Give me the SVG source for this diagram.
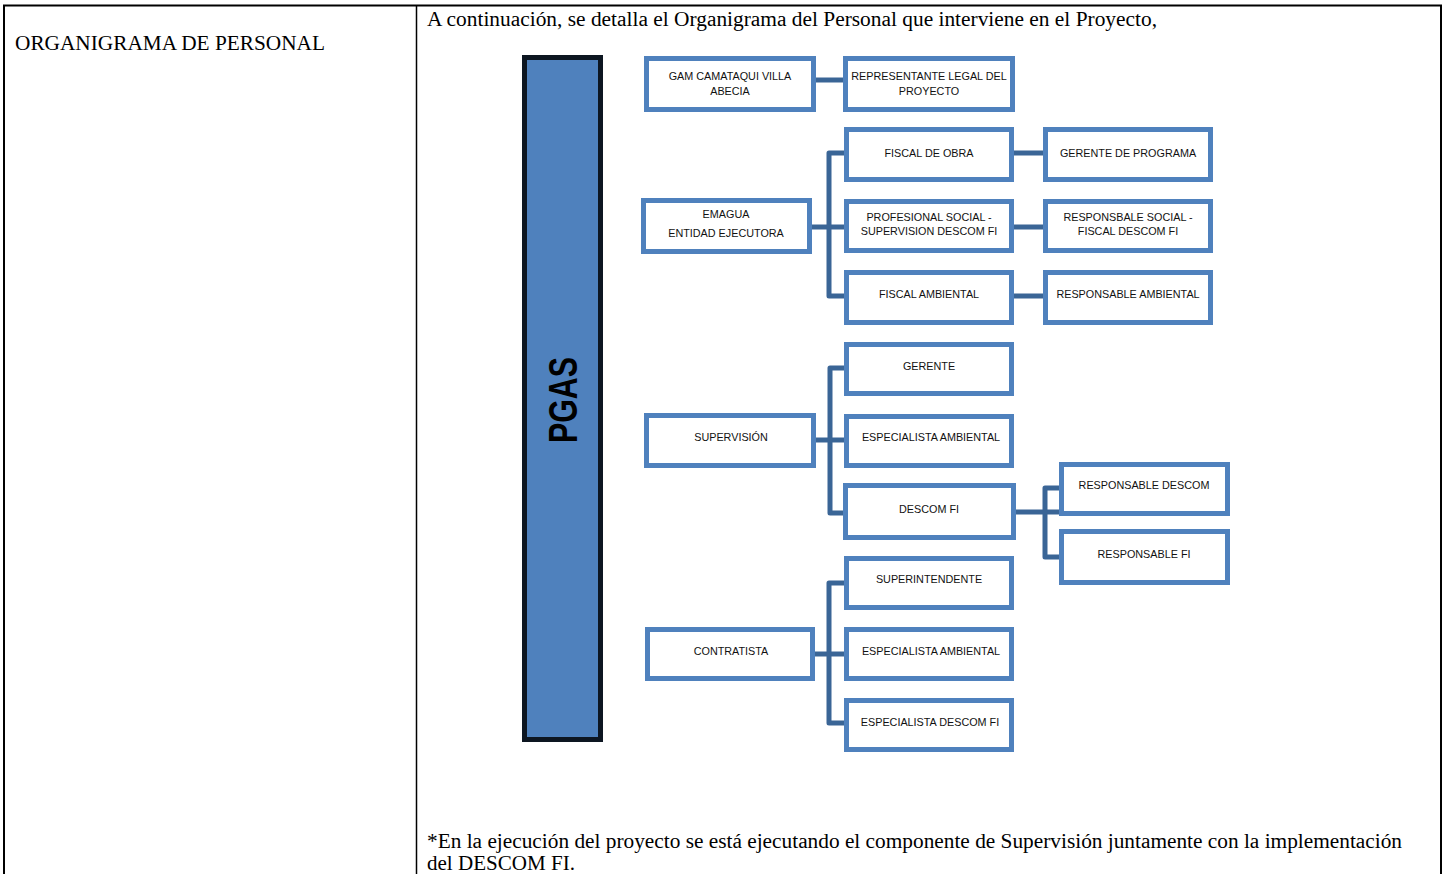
<svg xmlns="http://www.w3.org/2000/svg" width="1443" height="874" viewBox="0 0 1443 874">
<style>
.tbl{fill:none;stroke:#000;stroke-width:2}
.box{fill:#fff;stroke:#4F81BD;stroke-width:5}
.lbl{font-family:"Liberation Sans",Arial,sans-serif;font-size:10.8px;fill:#111;text-anchor:middle}
.con{fill:none;stroke:#3A6596;stroke-width:5;stroke-linejoin:round}
.serif{font-family:"Liberation Serif","Times New Roman",serif;fill:#000}
</style>
<rect width="1443" height="874" fill="#fff"/>
<g id="table">
<path class="tbl" d="M4 880 V5.5 H1441 V880"/>
<path d="M416.5 5 V880" stroke="#000" stroke-width="1.5"/>
<text class="serif" x="15" y="50" font-size="20" textLength="310" lengthAdjust="spacingAndGlyphs">ORGANIGRAMA DE PERSONAL</text>
<text class="serif" x="427" y="26" font-size="20" textLength="730" lengthAdjust="spacingAndGlyphs">A continuación, se detalla el Organigrama del Personal que interviene en el Proyecto,</text>
<text class="serif" x="427" y="848" font-size="20" textLength="975" lengthAdjust="spacingAndGlyphs">*En la ejecución del proyecto se está ejecutando el componente de Supervisión juntamente con la implementación</text>
<text class="serif" x="427" y="870" font-size="20" textLength="148" lengthAdjust="spacingAndGlyphs">del DESCOM FI.</text>
</g>
<g id="pgas">
<rect x="524.5" y="57.5" width="76" height="682" fill="#4F81BD" stroke="#0D1621" stroke-width="5"/>
<text transform="translate(577 400) rotate(-90)" font-family="'Liberation Sans',Arial,sans-serif" font-weight="bold" font-size="40" text-anchor="middle" textLength="86" lengthAdjust="spacingAndGlyphs" fill="#000">PGAS</text>
</g>
<g id="connectors">
<path class="con" d="M816 80 H843"/>
<path class="con" d="M812 227 H844"/>
<path class="con" d="M846 153 H829 V296 H846"/>
<path class="con" d="M1014 153 H1043 M1014 227 H1043 M1014 296 H1043"/>
<path class="con" d="M816 440 H844"/>
<path class="con" d="M846 368 H830 V513 H846"/>
<path class="con" d="M1016 512 H1059"/>
<path class="con" d="M1061 488 H1045 V557 H1061"/>
<path class="con" d="M815 654 H844"/>
<path class="con" d="M846 583 H829 V723 H846"/>
</g>
<g id="n-gam"><rect class="box" x="646.5" y="58.5" width="167" height="51"/><text class="lbl" x="730" y="80">GAM CAMATAQUI VILLA</text><text class="lbl" x="730" y="95">ABECIA</text></g>
<g id="n-rep"><rect class="box" x="845.5" y="58.5" width="167" height="51"/><text class="lbl" x="929" y="80">REPRESENTANTE LEGAL DEL</text><text class="lbl" x="929" y="95">PROYECTO</text></g>
<g id="n-emagua"><rect class="box" x="643.5" y="200.5" width="166" height="51"/><text class="lbl" x="726" y="218">EMAGUA</text><text class="lbl" x="726" y="237">ENTIDAD EJECUTORA</text></g>
<g id="n-fiscalobra"><rect class="box" x="846.5" y="129.5" width="165" height="50"/><text class="lbl" x="929" y="157">FISCAL DE OBRA</text></g>
<g id="n-profsocial"><rect class="box" x="846.5" y="201.5" width="165" height="49"/><text class="lbl" x="929" y="221">PROFESIONAL SOCIAL -</text><text class="lbl" x="929" y="235">SUPERVISION DESCOM FI</text></g>
<g id="n-fiscalamb"><rect class="box" x="846.5" y="272.5" width="165" height="50"/><text class="lbl" x="929" y="298">FISCAL AMBIENTAL</text></g>
<g id="n-gerprog"><rect class="box" x="1045.5" y="129.5" width="165" height="50"/><text class="lbl" x="1128" y="157">GERENTE DE PROGRAMA</text></g>
<g id="n-respsocial"><rect class="box" x="1045.5" y="201.5" width="165" height="49"/><text class="lbl" x="1128" y="221">RESPONSBALE SOCIAL -</text><text class="lbl" x="1128" y="235">FISCAL DESCOM FI</text></g>
<g id="n-respamb"><rect class="box" x="1045.5" y="272.5" width="165" height="50"/><text class="lbl" x="1128" y="298">RESPONSABLE AMBIENTAL</text></g>
<g id="n-supervision"><rect class="box" x="646.5" y="415.5" width="167" height="50"/><text class="lbl" x="731" y="441">SUPERVISIÓN</text></g>
<g id="n-gerente"><rect class="box" x="846.5" y="344.5" width="165" height="49"/><text class="lbl" x="929" y="370">GERENTE</text></g>
<g id="n-espamb1"><rect class="box" x="846.5" y="416.5" width="165" height="49"/><text class="lbl" x="931" y="441">ESPECIALISTA AMBIENTAL</text></g>
<g id="n-descomfi"><rect class="box" x="845.5" y="485.5" width="168" height="52"/><text class="lbl" x="929" y="513">DESCOM FI</text></g>
<g id="n-respdescom"><rect class="box" x="1061.5" y="464.5" width="166" height="49"/><text class="lbl" x="1144" y="489">RESPONSABLE DESCOM</text></g>
<g id="n-respfi"><rect class="box" x="1061.5" y="531.5" width="166" height="51"/><text class="lbl" x="1144" y="558">RESPONSABLE FI</text></g>
<g id="n-superint"><rect class="box" x="846.5" y="558.5" width="165" height="49"/><text class="lbl" x="929" y="583">SUPERINTENDENTE</text></g>
<g id="n-contratista"><rect class="box" x="647.5" y="629.5" width="165" height="49"/><text class="lbl" x="731" y="655">CONTRATISTA</text></g>
<g id="n-espamb2"><rect class="box" x="846.5" y="629.5" width="165" height="49"/><text class="lbl" x="931" y="655">ESPECIALISTA AMBIENTAL</text></g>
<g id="n-espdescom"><rect class="box" x="846.5" y="700.5" width="165" height="49"/><text class="lbl" x="930" y="726">ESPECIALISTA DESCOM FI</text></g>
</svg>
